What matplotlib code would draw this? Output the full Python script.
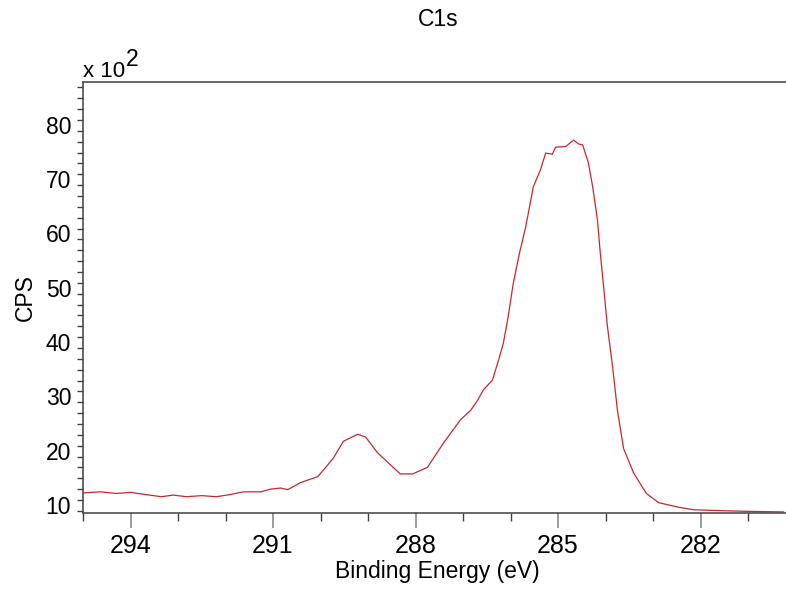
import matplotlib
matplotlib.use("Agg")
import matplotlib.pyplot as plt
from matplotlib.ticker import MultipleLocator, FixedLocator
import matplotlib.transforms as mtransforms

plt.rcParams['font.family'] = ['Liberation Sans', 'DejaVu Sans']

# Binding energy (eV) and counts (x 10^2 CPS)
energy = [295.0, 294.63, 294.3, 294.0, 293.68, 293.35, 293.1, 292.82, 292.5, 292.19,
          291.9, 291.62, 291.26, 291.05, 290.84, 290.69, 290.42, 290.06, 289.94, 289.73,
          289.52, 289.22, 289.05, 288.80, 288.53, 288.32, 288.06, 287.75, 287.41, 287.05,
          286.84, 286.69, 286.57, 286.38, 286.25, 286.15, 286.06, 285.94, 285.81, 285.68,
          285.52, 285.37, 285.26, 285.12, 285.05, 284.84, 284.67, 284.57, 284.48, 284.36,
          284.27, 284.17, 284.11, 284.04, 283.96, 283.85, 283.75, 283.62, 283.41, 283.14,
          282.88, 282.48, 282.15, 281.64, 281.01, 280.25]
cps = [13.3, 13.5, 13.2, 13.4, 13.0, 12.6, 12.9, 12.6, 12.8, 12.6,
       13.0, 13.5, 13.5, 14.0, 14.2, 13.9, 15.2, 16.3, 17.5, 19.7,
       22.8, 24.1, 23.6, 20.7, 18.5, 16.8, 16.8, 18.0, 22.5, 26.8,
       28.5, 30.4, 32.3, 34.1, 37.8, 40.9, 45.2, 52.0, 57.5, 62.3,
       69.7, 72.8, 75.9, 75.7, 77.0, 77.1, 78.3, 77.6, 77.4, 74.1,
       69.7, 63.6, 57.5, 51.3, 44.0, 36.5, 28.6, 21.5, 17.0, 13.2,
       11.5, 10.7, 10.2, 10.05, 9.9, 9.8]

x_major = [294, 291, 288, 285, 282]
y_major = [10, 20, 30, 40, 50, 60, 70, 80]

fig = plt.figure(figsize=(7.86, 5.92), dpi=100)
ax = fig.add_axes([83/786, 79/592, 703/786, 431/592])

ax.plot(energy, cps, color='#c8282c', lw=0.9)

ax.set_xlim(295.0, 280.2)
ax.set_ylim(9.6, 89.0)

ax.xaxis.set_major_locator(FixedLocator(x_major))
ax.xaxis.set_minor_locator(MultipleLocator(1))
ax.yaxis.set_major_locator(FixedLocator(y_major))
ax.yaxis.set_minor_locator(MultipleLocator(2))

for s in ['left', 'top', 'bottom']:
    ax.spines[s].set_color('#404040')
    ax.spines[s].set_linewidth(1.1)
ax.spines['right'].set_visible(False)

ax.tick_params(axis='x', which='major', direction='out', length=11, width=1.1,
               color='#808080', labelsize=18, pad=4, top=False)
ax.tick_params(axis='x', which='minor', direction='out', length=6, width=1.0,
               color='#404040', top=False)
ax.tick_params(axis='y', which='both', direction='out', length=4.5, width=1.0,
               color='#404040', labelsize=16.5, pad=4, right=False)

offset = mtransforms.ScaledTranslation(0, 6/100, fig.dpi_scale_trans)
for lab in ax.get_yticklabels():
    lab.set_transform(lab.get_transform() + offset)

ax.set_xlabel('Binding Energy (eV)', fontsize=16.5)
ax.xaxis.set_label_coords(0.504, -0.108)
ax.set_ylabel('CPS', fontsize=16.5)
ax.yaxis.set_label_coords(-0.066, 0.5)

fig.text(438/786, 1 - 20/592, 'C1s', ha='center', va='center', fontsize=16.5)
ax.text(0.0, 1.0, 'x 10', transform=ax.transAxes, ha='left', va='bottom', fontsize=16)
fig.text(126/786, 1 - 59/592, '2', ha='left', va='center', fontsize=16.5)

fig.savefig('out.png', dpi=100)
